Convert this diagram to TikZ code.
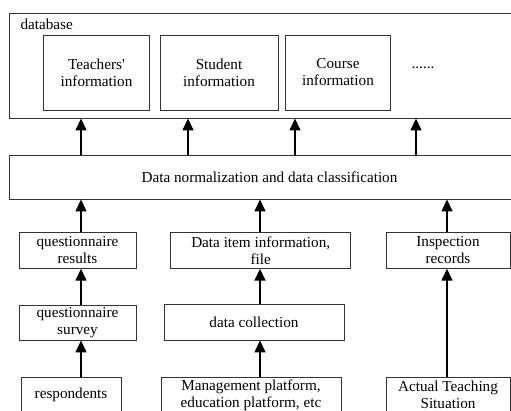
\documentclass[tikz,border=0pt]{standalone}
\usepackage{fontspec}
\setmainfont{Liberation Serif}
\usepackage{tikz}
\usetikzlibrary{arrows.meta,calc}

\tikzset{
	box/.style={draw=black!80,line width=0.9pt,inner sep=0pt,align=center,
		font=\fontsize{15.2}{17}\selectfont},
	arr/.style={line width=1.5pt,-{Triangle[length=12pt,width=11pt]}}
}

\begin{document}
\begin{tikzpicture}[x=1pt,y=-1pt]
	\useasboundingbox (0,0) rectangle (511,410);
	% database
	\node[box,minimum width=521,minimum height=104.5] (db) at (269.5,65.75) {};
	\node[anchor=west,font=\fontsize{15.2}{17}\selectfont] (dbname) at (17,24) {database};
	\node[box,minimum width=106,minimum height=75] (teach) at (96.5,72.5) {Teachers\textquotesingle\\information};
	\node[box,minimum width=118,minimum height=75] (stud) at (219,72.5) {Student\\information};
	\node[box,minimum width=105,minimum height=75] (course) at (338,72.5) {Course\\information};
	\node[font=\fontsize{15.2}{17}\selectfont] (dots) at (423,68) {......};
	% normalization
	\node[box,minimum width=521,minimum height=44] (norm) at (269.5,177) {Data normalization and data classification};
	% second row
	\node[box,minimum width=117,minimum height=35.5] (qres) at (77.5,250.5) {questionnaire\\results};
	\node[box,minimum width=180,minimum height=35.5] (item) at (260.7,250.5) {Data item information,\\file};
	\node[box,minimum width=124,minimum height=35.5] (insp) at (448,250.5) {Inspection\\records};
	% third row
	\node[box,minimum width=117,minimum height=35] (qsur) at (77.5,322.5) {questionnaire\\survey};
	\node[box,minimum width=180,minimum height=36] (coll) at (254,322) {data collection};
	% bottom row
	\node[box,minimum width=100,minimum height=36] (resp) at (71,395) {respondents};
	\node[box,minimum width=180,minimum height=36] (mgmt) at (251,395) {Management platform,\\education platform, etc};
	\node[box,minimum width=124,minimum height=36] (actual) at (448,395) {Actual Teaching\\Situation};
	% arrow columns
	\coordinate (c1) at (81,0);
	\coordinate (c2) at (188,0);
	\coordinate (c3) at (295,0);
	\coordinate (c4) at (416,0);
	\coordinate (c5) at (260,0);
	\coordinate (c6) at (447,0);
	\draw[arr] (norm.north -| c1) -- (db.south -| c1);
	\draw[arr] (norm.north -| c2) -- (db.south -| c2);
	\draw[arr] (norm.north -| c3) -- (db.south -| c3);
	\draw[arr] (norm.north -| c4) -- (db.south -| c4);
	\draw[arr] (qres.north -| c1) -- (norm.south -| c1);
	\draw[arr] (item.north -| c5) -- (norm.south -| c5);
	\draw[arr] (insp.north -| c6) -- (norm.south -| c6);
	\draw[arr] (qsur.north -| c1) -- (qres.south -| c1);
	\draw[arr] (coll.north -| c5) -- (item.south -| c5);
	\draw[arr] (resp.north -| c1) -- (qsur.south -| c1);
	\draw[arr] (mgmt.north -| c5) -- (coll.south -| c5);
	\draw[arr] (actual.north -| c6) -- (insp.south -| c6);
\end{tikzpicture}
\end{document}
